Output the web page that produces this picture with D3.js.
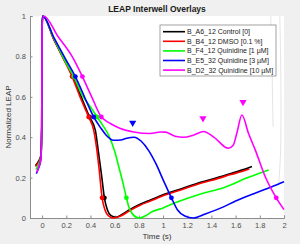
<!DOCTYPE html>
<html>
<head>
<meta charset="utf-8">
<script src="https://cdn.jsdelivr.net/npm/d3@7"></script>
<style>
  body { margin: 0; background: #f0f0f0; }
  text { font-family: "Liberation Sans", Arial, sans-serif; }
</style>
</head>
<body>
<div id="chart"></div>
<script>
    var svgWidth = 300;
    var svgHeight = 244;

    var margin = { top: 16, right: 16, bottom: 26, left: 30 };
    var width = svgWidth - margin.left - margin.right;
    var height = svgHeight - margin.top - margin.bottom;

    // series names and colours
    var seriesNames = ["B_A6_12 Control [0]", "B_B4_12 DMSO [0.1 %]", "B_F4_12 Quinidine [1 \u00b5M]",
      "B_E5_32 Quinidine [3 \u00b5M]", "B_D2_32 Quinidine [10 \u00b5M]"];
    var seriesColors = ["#000000", "#ff0000", "#00ff00", "#0000ff", "#ff00ff"];

    // traces, [time (s), normalized LEAP]
    var blackTrace = [[-0.055,0.26],[-0.03,0.28],[-0.01,0.31],[-0.003,0.45],[0,0.95],[0.005,1],[0.1,0.88],[0.2,0.765],[0.255,0.70],
      [0.33,0.59],[0.392,0.5],[0.44,0.435],[0.465,0.33],[0.49,0.22],[0.515,0.1],[0.54,0.04],[0.57,0.012],[0.61,0.004],
      [0.66,0.017],[0.72,0.04],[0.81,0.068],[0.9,0.09],[1.0,0.115],[1.14,0.142],[1.31,0.177],[1.45,0.2],[1.56,0.22],
      [1.65,0.237],[1.735,0.255]];
    var redTrace = [[-0.055,0.255],[-0.03,0.275],[-0.01,0.305],[-0.003,0.45],[0,0.95],[0.005,1],[0.1,0.88],[0.2,0.76],[0.248,0.70],
      [0.32,0.59],[0.385,0.5],[0.427,0.434],[0.45,0.35],[0.47,0.25],[0.496,0.1],[0.52,0.04],[0.55,0.01],[0.59,0.0],
      [0.65,0.01],[0.72,0.035],[0.81,0.063],[0.9,0.085],[1.0,0.11],[1.14,0.137],[1.31,0.172],[1.45,0.195],[1.56,0.215],
      [1.65,0.23],[1.713,0.243]];
    var greenTrace = [[-0.05,0.24],[-0.03,0.265],[-0.01,0.3],[-0.003,0.45],[0,0.95],[0.005,1],[0.1,0.885],[0.2,0.765],[0.262,0.70],
      [0.33,0.61],[0.40,0.55],[0.455,0.5],[0.5,0.46],[0.55,0.41],[0.6,0.33],[0.64,0.24],[0.67,0.17],[0.697,0.1],
      [0.72,0.05],[0.75,0.018],[0.8,0.0],[0.86,0.012],[0.9,0.028],[1.0,0.05],[1.1,0.075],[1.31,0.119],[1.5,0.15],
      [1.7,0.2],[1.873,0.238]];
    var blueTrace = [[-0.048,0.22],[-0.03,0.245],[-0.01,0.29],[-0.003,0.45],[0,0.95],[0.005,1],[0.1,0.89],[0.2,0.78],[0.275,0.70],
      [0.35,0.6],[0.427,0.5],[0.48,0.45],[0.53,0.41],[0.59,0.385],[0.65,0.386],[0.7,0.395],[0.76,0.40],[0.82,0.38],
      [0.88,0.335],[0.94,0.27],[1.0,0.19],[1.069,0.1],[1.12,0.04],[1.18,0.01],[1.25,0.0],[1.35,0.02],[1.5,0.055],
      [1.6,0.084],[1.75,0.12],[1.9,0.155],[2.0,0.18]];
    var magentaTrace = [[-0.045,0.225],[-0.03,0.25],[-0.01,0.29],[-0.003,0.45],[0,0.95],[0.013,1],[0.13,0.9],[0.248,0.8],[0.333,0.70],
      [0.41,0.6],[0.49,0.5],[0.53,0.48],[0.564,0.468],[0.647,0.443],[0.757,0.426],[0.895,0.418],[0.978,0.426],[1.02,0.425],
      [1.1,0.405],[1.17,0.40],[1.25,0.41],[1.336,0.428],[1.42,0.40],[1.54,0.345],[1.58,0.36],[1.61,0.42],[1.652,0.51],
      [1.707,0.418],[1.763,0.336],[1.846,0.203],[1.936,0.1],[2.0,0.042]];
    var traces = [blackTrace, redTrace, greenTrace, blueTrace, magentaTrace];

    // marker times at 70%, 50%, 10% of the repolarization
    var markerLevels = [0.7, 0.5, 0.1];
    var markerTimes = [[0.255,0.392,0.515],[0.248,0.385,0.496],[0.262,0.455,0.697],[0.275,0.427,1.069],[0.333,0.49,1.936]];

    // triangle markers, [series index, time, value]
    var peakMarkers = [[3,0.749,0.471],[4,1.33,0.493],[4,1.661,0.574]];

    // faint leftover traces near the right edge
    var ghostA = [[1.89,1.0],[1.9,0.8],[1.905,0.6],[1.91,0.45]];
    var ghostB = [[1.965,1.0],[1.972,0.8],[1.975,0.5],[1.97,0.3],[1.955,0.16]];

    var xTicks = [0,0.2,0.4,0.6,0.8,1,1.2,1.4,1.6,1.8,2];
    var yTicks = [0,0.2,0.4,0.6,0.8,1];

    var svg = d3.select("#chart").append("svg")
      .attr("width", svgWidth)
      .attr("height", svgHeight);

    var chartGroup = svg.append("g")
      .attr("transform", `translate(${margin.left}, ${margin.top})`);

    var xLinearScale = d3.scaleLinear().domain([-0.1, 2]).range([0, width]);
    var yLinearScale = d3.scaleLinear().domain([0, 1]).range([height, 0]);

    chartGroup.append("rect")
      .attr("width", width)
      .attr("height", height)
      .attr("fill", "#ffffff");

    svg.append("defs").append("clipPath").attr("id", "plotClip")
      .append("rect").attr("x", -2).attr("y", -3).attr("width", width + 3).attr("height", height + 5);

    // axes (ticks point inward like MATLAB)
    var bottomAxis = d3.axisBottom(xLinearScale).tickValues(xTicks).tickSize(-2.5).tickPadding(5)
      .tickFormat(d3.format("~g"));
    var leftAxis = d3.axisLeft(yLinearScale).tickValues(yTicks).tickSize(-2.5).tickPadding(4)
      .tickFormat(d3.format("~g"));

    var xAxis = chartGroup.append("g")
      .attr("transform", `translate(0, ${height})`)
      .call(bottomAxis);
    var yAxis = chartGroup.append("g").call(leftAxis);

    [xAxis, yAxis].forEach(function(ax) {
      ax.select(".domain").attr("stroke", "#8c8c8c").attr("stroke-width", 1);
      ax.selectAll(".tick line").attr("stroke", "#8c8c8c");
      ax.selectAll("text").attr("fill", "#4d4d4d").attr("font-size", "7.5px");
    });

    var plotGroup = chartGroup.append("g").attr("clip-path", "url(#plotClip)");

    var line = d3.line()
      .x(d => xLinearScale(d[0]))
      .y(d => yLinearScale(d[1]))
      .curve(d3.curveMonotoneX);

    var ghostLine = d3.line()
      .x(d => xLinearScale(d[0]))
      .y(d => yLinearScale(d[1]))
      .curve(d3.curveCatmullRom);

    plotGroup.selectAll(".ghost")
      .data([ghostA, ghostB])
      .enter()
      .append("path")
      .attr("class", "ghost")
      .attr("d", ghostLine)
      .attr("fill", "none")
      .attr("stroke", "#e4e4e4")
      .attr("stroke-width", 1);

    traces.forEach(function(trace, i) {
      plotGroup.append("path")
        .attr("d", line(trace))
        .attr("fill", "none")
        .attr("stroke", seriesColors[i])
        .attr("stroke-width", 1.6)
        .attr("stroke-linejoin", "round");

      plotGroup.selectAll(".m" + i)
        .data(markerTimes[i])
        .enter()
        .append("circle")
        .attr("class", "m" + i)
        .attr("cx", d => xLinearScale(d))
        .attr("cy", (d, j) => yLinearScale(markerLevels[j]))
        .attr("r", 2.4)
        .attr("fill", seriesColors[i]);
    });

    // downward triangles
    plotGroup.selectAll(".tri")
      .data(peakMarkers)
      .enter()
      .append("path")
      .attr("class", "tri")
      .attr("d", d3.symbol().type(d3.symbolTriangle).size(22))
      .attr("transform", d => `translate(${xLinearScale(d[1])}, ${yLinearScale(d[2])}) rotate(180)`)
      .attr("fill", d => seriesColors[d[0]]);

    // title and axis labels
    svg.append("text")
      .attr("x", margin.left + width / 2)
      .attr("y", 12)
      .attr("text-anchor", "middle")
      .attr("font-size", "8.5px")
      .attr("font-weight", "bold")
      .attr("fill", "#1a1a1a")
      .text("LEAP Interwell Overlays");

    svg.append("text")
      .attr("x", margin.left + width / 2)
      .attr("y", 239)
      .attr("text-anchor", "middle")
      .attr("font-size", "8px")
      .attr("fill", "#333333")
      .text("Time (s)");

    svg.append("text")
      .attr("transform", `translate(11, ${margin.top + height / 2}) rotate(-90)`)
      .attr("text-anchor", "middle")
      .attr("font-size", "8px")
      .attr("fill", "#333333")
      .text("Normalized LEAP");

    // legend
    var legendGroup = svg.append("g").attr("transform", "translate(160, 25)");
    legendGroup.append("rect")
      .attr("width", 116)
      .attr("height", 51)
      .attr("fill", "#ffffff")
      .attr("stroke", "#8c8c8c")
      .attr("stroke-width", 0.8);

    var legendRows = legendGroup.selectAll(".legendRow")
      .data(seriesNames)
      .enter()
      .append("g")
      .attr("class", "legendRow")
      .attr("transform", (d, i) => `translate(0, ${6.7 + i * 9.6})`);

    legendRows.append("line")
      .attr("x1", 3)
      .attr("x2", 25)
      .attr("stroke", (d, i) => seriesColors[i])
      .attr("stroke-width", 1.6);

    legendRows.append("text")
      .attr("x", 27)
      .attr("y", 2.5)
      .attr("font-size", "7px")
      .attr("fill", "#1a1a1a")
      .text(d => d);
</script>
</body>
</html>
